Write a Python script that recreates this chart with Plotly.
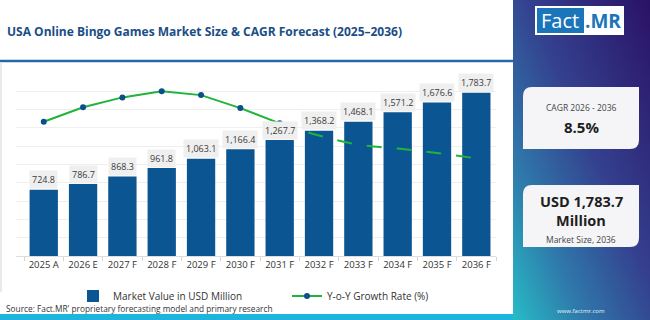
import base64
import plotly.graph_objects as go

# ---------------- data ----------------
categories = ["2025 A", "2026 E", "2027 F", "2028 F", "2029 F", "2030 F",
              "2031 F", "2032 F", "2033 F", "2034 F", "2035 F", "2036 F"]
market_values = [724.8, 786.7, 868.3, 961.8, 1063.1, 1166.4,
                 1267.7, 1368.2, 1468.1, 1571.2, 1676.6, 1783.7]
growth_rates = [8.8, 9.75, 10.4, 10.8, 10.55, 9.7,
                8.7, 7.9, 7.3, 7.05, 6.75, 6.4]
solid_until = 6  # index where the dashed part starts

W, H = 650, 320
ML, MR, MT, MB = 16, 154, 73, 64
PW = W - ML - MR
PH = H - MT - MB
CLEAR = "rgba(0,0,0,0)"


def px(x):
    return (x - ML) / PW


def py(y):
    return (H - MB - y) / PH


BAR = "#0b5592"
GREEN = "#1fb53a"
MARK = "#0d4f8b"

fig = go.Figure()

fig.add_trace(go.Bar(
    x=categories, y=market_values, name="Market Value in USD Million",
    marker=dict(color=BAR, line=dict(width=0)), yaxis="y",
))
fig.add_trace(go.Scatter(
    x=categories[:solid_until + 1], y=growth_rates[:solid_until + 1],
    name="Y-o-Y Growth Rate (%)", mode="lines+markers",
    line=dict(color=GREEN, width=2), marker=dict(color=MARK, size=6),
    yaxis="y2",
))
fig.add_trace(go.Scatter(
    x=categories[solid_until:], y=growth_rates[solid_until:],
    mode="lines", showlegend=False,
    line=dict(color=GREEN, width=2, dash="longdash", shape="spline"),
    yaxis="y2",
))

annotations = []
for c, v in zip(categories, market_values):
    annotations.append(dict(
        x=c, y=v, xref="x", yref="y", text=f"{v:,.1f}", showarrow=False,
        yanchor="middle", yshift=10, font=dict(size=9, color="#3a3a3a",
                                                family="Open Sans"),
        bgcolor="#efefef", borderpad=2,
    ))

# title and source
annotations.append(dict(
    x=px(5), y=py(32), xref="paper", yref="paper", xanchor="left",
    yanchor="middle", showarrow=False,
    text="<b>USA Online Bingo Games Market Size & CAGR Forecast (2025–2036)</b>",
    font=dict(size=12.0, color="#1a4d86", family="Open Sans")))
annotations.append(dict(
    x=px(4), y=py(308), xref="paper", yref="paper", xanchor="left",
    yanchor="middle", showarrow=False,
    text="Source: Fact.MR' proprietary forecasting model and primary research",
    font=dict(size=8.3, color="#333333", family="Open Sans")))

# side panel texts
cagr = (market_values[-1] / market_values[1]) ** (1 / 10) - 1
panel_cx = px(581)
annotations += [
    dict(x=px(560), y=py(20.5), text="Fact", font=dict(size=20, color="white",
         family="Open Sans")),
    dict(x=px(603), y=py(20.5), text="<b>.MR</b>", font=dict(size=19, color="#1b75bb",
         family="Open Sans")),
    dict(x=panel_cx, y=py(107), text="CAGR 2026 - 2036",
         font=dict(size=8.5, color="#444444", family="Open Sans")),
    dict(x=panel_cx, y=py(127), text=f"<b>{cagr*100:.1f}%</b>",
         font=dict(size=15, color="#1e1e1e", family="Open Sans")),
    dict(x=panel_cx, y=py(201), text=f"<b>USD {market_values[-1]:,.1f}</b>",
         font=dict(size=14.5, color="#1e1e1e", family="Open Sans")),
    dict(x=panel_cx, y=py(220), text="<b>Million</b>",
         font=dict(size=14.5, color="#1e1e1e", family="Open Sans")),
    dict(x=panel_cx, y=py(239), text="Market Size, 2036",
         font=dict(size=8.5, color="#444444", family="Open Sans")),
    dict(x=panel_cx, y=py(311), text="www.factmr.com",
         font=dict(size=6, color="#e8f4f8", family="Open Sans")),
]
for a in annotations[-8:]:
    a.update(xref="paper", yref="paper", showarrow=False,
             xanchor="center", yanchor="middle")


def card_path(x0, y0, x1, y1, r):
    pts = [
        ("M", x0 + r, y0), ("L", x1, y0), ("L", x1, y1 - r),
        ("Q", x1, y1, x1 - r, y1), ("L", x0, y1), ("L", x0, y0 + r),
        ("Q", x0, y0, x0 + r, y0),
    ]
    s = ""
    for p in pts:
        cmd = p[0]
        coords = p[1:]
        parts = []
        for i in range(0, len(coords), 2):
            parts.append(f"{px(coords[i]):.5f},{py(coords[i+1]):.5f}")
        s += cmd + " " + " ".join(parts) + " "
    return s + "Z"


shapes = [
    # chart frame
    dict(type="line", xref="paper", yref="paper", x0=px(0), x1=px(513),
         y0=py(61), y1=py(61), line=dict(color="#2568a8", width=2.5)),
    dict(type="line", xref="paper", yref="paper", x0=px(1), x1=px(1),
         y0=py(62), y1=py(292), line=dict(color="#e2e2e2", width=1.5)),
    # bottom strip
    dict(type="rect", xref="paper", yref="paper", x0=px(0), x1=px(513),
         y0=py(314), y1=py(320), fillcolor="#1db5dd", line=dict(width=0)),
    # logo
    dict(type="rect", xref="paper", yref="paper", x0=px(535), x1=px(624),
         y0=py(6), y1=py(35), fillcolor="white", line=dict(width=0)),
    dict(type="rect", xref="paper", yref="paper", x0=px(537), x1=px(584),
         y0=py(8), y1=py(33), fillcolor="#1b75bb", line=dict(width=0)),
    # cards
    dict(type="path", xref="paper", yref="paper",
         path=card_path(523, 87, 639, 149, 9), fillcolor="#f5f5f7",
         line=dict(width=0)),
    dict(type="path", xref="paper", yref="paper",
         path=card_path(523, 185, 639, 247, 9), fillcolor="#f5f5f7",
         line=dict(width=0)),
]

svg = """<svg xmlns='http://www.w3.org/2000/svg' width='137' height='320' preserveAspectRatio='none'>
<defs><linearGradient id='g' x1='1' y1='0' x2='0' y2='1'>
<stop offset='0' stop-color='#2a1266'/>
<stop offset='0.45' stop-color='#34418f'/>
<stop offset='0.75' stop-color='#2f7aab'/>
<stop offset='1' stop-color='#27bcc6'/>
</linearGradient></defs>
<rect width='137' height='320' fill='url(#g)'/></svg>"""
src = "data:image/svg+xml;base64," + base64.b64encode(svg.encode()).decode()

fig.update_layout(
    width=W, height=H,
    margin=dict(l=ML, r=MR, t=MT, b=MB, pad=0, autoexpand=False),
    paper_bgcolor="white", plot_bgcolor="white",
    bargap=0.28,
    font=dict(family="Open Sans", color="#333333"),
    xaxis=dict(showline=True, linecolor="#dddddd", linewidth=1,
               ticks="outside", tickson="boundaries", ticklen=4,
               tickcolor="#d5d5d5", tickfont=dict(size=9.5, color="#333333"),
               showgrid=False, gridcolor=CLEAR, zeroline=False,
               zerolinecolor=CLEAR),
    yaxis=dict(range=[0, 2000], dtick=200, showticklabels=False,
               gridcolor="#efefef", gridwidth=1, zeroline=False,
               zerolinecolor=CLEAR, showline=False, linecolor=CLEAR,
               ticks="", tickcolor=CLEAR),
    yaxis2=dict(range=[0, 12], overlaying="y", side="right",
                showgrid=False, gridcolor=CLEAR, zeroline=False,
                zerolinecolor=CLEAR, showline=False, linecolor=CLEAR,
                showticklabels=False, ticks="", tickcolor=CLEAR),
    showlegend=True,
    legend=dict(orientation="h", x=px(73), y=py(296), xanchor="left",
                yanchor="middle", xref="paper", yref="paper",
                font=dict(size=10, color="#333333"), entrywidth=169,
                bgcolor=CLEAR, borderwidth=0, traceorder="normal"),
    annotations=annotations,
    shapes=shapes,
    images=[dict(source=src, xref="paper", yref="paper", x=px(513), y=py(0),
                 sizex=(650 - 513) / PW, sizey=320 / PH, xanchor="left",
                 yanchor="top", sizing="stretch", layer="below")],
)

fig.write_html("out.html")
